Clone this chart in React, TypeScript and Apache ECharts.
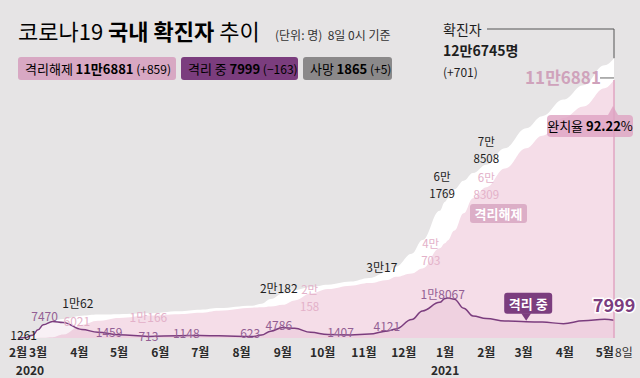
import React, { useEffect, useRef } from 'react';
import * as echarts from 'echarts';

// ---------- data ----------
const dates = [
  '2020-02-15', '2020-02-20', '2020-02-26', '2020-03-01', '2020-03-05', '2020-03-12', '2020-03-20',
  '2020-04-03', '2020-04-15', '2020-05-01', '2020-05-23', '2020-06-15', '2020-07-01', '2020-07-15',
  '2020-08-09', '2020-08-16', '2020-08-23', '2020-09-01', '2020-09-10', '2020-09-22', '2020-10-05',
  '2020-10-22', '2020-11-05', '2020-11-19', '2020-11-25', '2020-12-07', '2020-12-15', '2020-12-28',
  '2021-01-01', '2021-01-03', '2021-01-08', '2021-01-15', '2021-01-22', '2021-02-01', '2021-02-15',
  '2021-03-03', '2021-03-15', '2021-03-31', '2021-04-15', '2021-05-01', '2021-05-08',
];
const confirmed = [
  28, 104, 1261, 3736, 6088, 7869, 8652, 10062, 10591, 10774, 11165, 12121, 12850, 13612, 14626,
  15515, 17665, 20182, 21743, 23106, 24164, 25543, 27195, 30017, 32318, 38161, 44364, 57680, 61769,
  63244, 67358, 71241, 74692, 78508, 86000, 95000, 100500, 108000, 114500, 123500, 126745,
];
const released = [
  9, 16, 22, 30, 88, 333, 1540, 6021, 7757, 9072, 10166, 10779, 11421, 12348, 13702, 13901, 14249,
  15050, 17023, 20158, 22208, 23709, 24910, 26325, 27703, 29265, 31493, 40703, 42953, 44215, 48678,
  56541, 63352, 68309, 76750, 86000, 91650, 99700, 104900, 113170, 116881,
];
const isolating = [
  19, 88, 1227, 3689, 5965, 7470, 7018, 3867, 2609, 1459, 713, 1065, 1148, 970, 623, 1314, 3107,
  4786, 4375, 2560, 1533, 1407, 1806, 3192, 4121, 8347, 12271, 16158, 17899, 18067, 17600, 13500,
  10000, 8779, 7700, 7400, 7200, 6500, 7800, 8500, 7999,
];
const deaths = 1865;
const changeConfirmed = 701;
const changeReleased = 859;
const changeIsolating = -163;
const changeDeaths = 5;

const monthTicks = [
  '2020-02-15', '2020-03-01', '2020-04-01', '2020-05-01', '2020-06-01', '2020-07-01', '2020-08-01',
  '2020-09-01', '2020-10-01', '2020-11-01', '2020-12-01', '2021-01-01', '2021-02-01', '2021-03-01',
  '2021-04-01', '2021-05-01',
];
const monthLabels = [
  '2월', '3월', '4월', '5월', '6월', '7월', '8월', '9월', '10월', '11월', '12월', '1월', '2월', '3월', '4월', '5월',
];
const yearUnder = ['', '', '', '', '', '', '', '', '', '', '', '2021', '', '', '', ''];

// ---------- styles ----------
const FF = "'Noto Sans CJK KR', 'Noto Sans', sans-serif";
const BG = '#e6e4e5';
const PINK_BOX = '#d8a8c3';
const PURPLE = '#7b3d7e';
const GRAY_BOX = '#8b898a';

// annotation placements (series key, data index, two-line?, offset from data point)
const annotations = [
  { s: 'c', i: 2, two: false, dx: -9, dy: -1 },
  { s: 'c', i: 7, two: false, dx: -4, dy: -13 },
  { s: 'c', i: 17, two: false, dx: -4, dy: -6 },
  { s: 'c', i: 23, two: false, dx: -6, dy: -5 },
  { s: 'c', i: 28, two: true, dx: -3, dy: -17 },
  { s: 'c', i: 33, two: true, dx: 0, dy: -15 },
  { s: 'r', i: 7, two: false, dx: -5, dy: -4 },
  { s: 'r', i: 10, two: false, dx: 0, dy: 1 },
  { s: 'r', i: 19, two: true, dx: -1, dy: 4 },
  { s: 'r', i: 27, two: true, dx: -9, dy: 3 },
  { s: 'r', i: 33, two: true, dx: 0, dy: -2 },
  { s: 'i', i: 5, two: false, dx: -8, dy: -6 },
  { s: 'i', i: 9, two: false, dx: -10, dy: -3 },
  { s: 'i', i: 10, two: false, dx: 0, dy: -1 },
  { s: 'i', i: 12, two: false, dx: -14, dy: -3 },
  { s: 'i', i: 14, two: false, dx: -2, dy: -4 },
  { s: 'i', i: 17, two: false, dx: -4, dy: -3 },
  { s: 'i', i: 21, two: false, dx: -10, dy: -3 },
  { s: 'i', i: 24, two: false, dx: -9, dy: -3 },
  { s: 'i', i: 29, two: false, dx: -5, dy: -5 },
];

const krNum = (n: number, two = false) => {
  if (n < 10000) return String(n);
  const man = Math.floor(n / 10000);
  const rest = n % 10000;
  return `${man}만${two ? '\n' : ''}${rest}`;
};
const signed = (n: number) => (n >= 0 ? `(+${n})` : `(−${Math.abs(n)})`);

const ts = (s: string) => {
  const [y, m, d] = s.split('-').map(Number);
  return Date.UTC(y, m - 1, d);
};

const T = (x: number, y: number, text: string, s: any = {}) => {
  const align = s.align || 'center';
  const va = s.verticalAlign || 'middle';
  return {
    type: 'text',
    x,
    y,
    z: 100,
    silent: true,
    style: {
      text,
      fontFamily: FF,
      ...s,
      align,
      verticalAlign: va,
      textAlign: align,
      textVerticalAlign: va,
    },
  };
};

export default function App() {
  const ref = useRef<HTMLDivElement>(null);

  useEffect(() => {
    const el = ref.current!;
    const chart = echarts.init(el, null, { renderer: 'svg' });
    const last = dates.length - 1;
    const pts = (arr: number[]) => dates.map((d, i) => [ts(d), arr[i]]);
    const tickTs = monthTicks.map(ts);

    chart.setOption({
      animation: false,
      backgroundColor: BG,
      grid: { left: 18, right: 26, top: 51, bottom: 40 },
      xAxis: {
        type: 'value',
        min: ts(dates[0]),
        max: ts(dates[last]),
        axisLine: { show: false },
        axisTick: { show: false },
        splitLine: { show: false },
        axisLabel: {
          customValues: tickTs,
          showMinLabel: true,
          showMaxLabel: true,
          hideOverlap: false,
          margin: 5,
          formatter: (v: number) => {
            let k = 0;
            let best = Infinity;
            tickTs.forEach((t, j) => {
              const dd = Math.abs(t - v);
              if (dd < best) {
                best = dd;
                k = j;
              }
            });
            return yearUnder[k] ? `{m|${monthLabels[k]}}\n{y|${yearUnder[k]}}` : `{m|${monthLabels[k]}}`;
          },
          rich: {
            m: { fontFamily: FF, fontSize: 12, fontWeight: 'bold', color: '#2a2a2a', lineHeight: 17.6 },
            y: { fontFamily: FF, fontSize: 12, fontWeight: 'bold', color: '#2a2a2a', lineHeight: 17.6 },
          },
        },
      },
      yAxis: { type: 'value', min: 0, max: 130000, show: false, splitLine: { show: false } },
      series: [
        {
          type: 'line',
          name: '확진자',
          data: pts(confirmed),
          smooth: 0.4,
          smoothMonotone: 'x',
          symbol: 'none',
          lineStyle: { width: 0, opacity: 0 },
          areaStyle: { color: '#ffffff', opacity: 1 },
          z: 1,
        },
        {
          type: 'line',
          name: '격리해제',
          data: pts(released),
          smooth: 0.4,
          smoothMonotone: 'x',
          symbol: 'none',
          lineStyle: { width: 0, opacity: 0 },
          areaStyle: { color: '#f5dde8', opacity: 1 },
          z: 2,
          markLine: {
            silent: true,
            symbol: 'none',
            label: { show: false },
            lineStyle: { color: '#e0a4c2', width: 1.5, type: 'solid' },
            data: [[{ coord: [ts(dates[last]), 0] }, { coord: [ts(dates[last]), released[last]] }]],
          },
        },
        {
          type: 'line',
          name: '격리 중',
          data: pts(isolating),
          smooth: 0.4,
          smoothMonotone: 'x',
          symbol: 'none',
          lineStyle: { color: PURPLE, width: 1.5 },
          areaStyle: { color: 'rgba(196,120,168,0.16)' },
          z: 3,
        },
      ],
    });

    const px = (i: number, arr: number[]) =>
      chart.convertToPixel({ gridIndex: 0 }, [ts(dates[i]), arr[i]]) as number[];
    const arrOf: any = { c: confirmed, r: released, i: isolating };
    const colOf: any = { c: '#1e1e1e', r: '#e3b1c9', i: '#935f94' };

    const g: any[] = [];

    // title
    g.push(
      T(18, 30, '{a|코로나19 }{b|국내 확진자 }{a|추이}', {
        align: 'left',
        rich: {
          a: { fontFamily: FF, fontSize: 22, color: '#1a1a1a' },
          b: { fontFamily: FF, fontSize: 22, fontWeight: 'bold', color: '#1a1a1a' },
        },
      })
    );
    g.push(T(275, 34, '(단위: 명)  8일 0시 기준', { align: 'left', fontSize: 12, fill: '#333' }));

    // legend boxes
    const box = (x: number, w: number, fill: string, a: string, b: string, c: string, ca: string) => {
      g.push({ type: 'rect', z: 99, silent: true, shape: { x, y: 57, width: w, height: 23, r: 3 }, style: { fill } });
      g.push(
        T(x + 7, 68.5, `{a|${a}} {b|${b}} {c|${c}}`, {
          align: 'left',
          rich: {
            a: { fontFamily: FF, fontSize: 13, color: ca },
            b: { fontFamily: FF, fontSize: 13, fontWeight: 'bold', color: '#ffffff' },
            c: { fontFamily: FF, fontSize: 12, color: ca },
          },
        })
      );
    };
    box(18, 158, PINK_BOX, '격리해제', krNum(released[last]), signed(changeReleased), '#f8eaf1');
    box(181, 117, PURPLE, '격리 중', String(isolating[last]), signed(changeIsolating), '#ffffff');
    box(303, 89, GRAY_BOX, '사망', String(deaths), signed(changeDeaths), '#ffffff');

    // value annotations
    annotations.forEach((a) => {
      const arr = arrOf[a.s];
      const p = px(a.i, arr);
      g.push(
        T(p[0] + a.dx, p[1] + a.dy, krNum(arr[a.i], a.two), {
          fontSize: a.two ? 11.5 : 12,
          lineHeight: 17,
          fill: colOf[a.s],
        })
      );
    });

    // confirmed total callout
    const pc = px(last, confirmed);
    g.push({
      type: 'polyline',
      z: 99,
      silent: true,
      shape: { points: [[487, 29], [pc[0], 29], [pc[0], pc[1]]] },
      style: { stroke: '#555', lineWidth: 1, fill: 'none' },
    });
    g.push(T(443, 29, '확진자', { align: 'left', fontSize: 14, fill: '#1e1e1e' }));
    g.push(T(443, 50, krNum(confirmed[last]) + '명', { align: 'left', fontSize: 14, fontWeight: 'bold', fill: '#1e1e1e' }));
    g.push(T(443, 71, signed(changeConfirmed), { align: 'left', fontSize: 12, fill: '#1e1e1e' }));

    // released total callout
    const pr = px(last, released);
    g.push({
      type: 'line',
      z: 99,
      silent: true,
      shape: { x1: pr[0] - 14, y1: pr[1] - 2, x2: pr[0], y2: pr[1] - 2 },
      style: { stroke: '#666', lineWidth: 1 },
    });
    g.push(T(pr[0] - 51, pr[1] - 3, krNum(released[last]), { fontSize: 17, fontWeight: 'bold', fill: '#cfa2bb' }));

    // recovery rate box
    const rate = ((released[last] / confirmed[last]) * 100).toFixed(2);
    const rb = { x: pr[0] - 67, y: pr[1] + 35, w: 86, h: 22 };
    g.push({ type: 'rect', z: 99, silent: true, shape: { x: rb.x, y: rb.y, width: rb.w, height: rb.h, r: 4 }, style: { fill: 'rgba(222,162,194,0.8)' } });
    g.push({
      type: 'polygon',
      z: 99,
      silent: true,
      shape: { points: [[pr[0] - 6, rb.y], [pr[0] + 4, rb.y], [pr[0] - 1, pr[1] + 26]] },
      style: { fill: 'rgba(222,162,194,0.8)' },
    });
    g.push(
      T(rb.x + rb.w / 2, rb.y + rb.h / 2, `{a|완치율 }{b|${rate}}{a|%}`, {
        rich: {
          a: { fontFamily: FF, fontSize: 13, color: '#ffffff' },
          b: { fontFamily: FF, fontSize: 13, fontWeight: 'bold', color: '#ffffff' },
        },
      })
    );

    // 격리해제 label box
    g.push({ type: 'rect', z: 99, silent: true, shape: { x: 470, y: 204, width: 57, height: 19, r: 3 }, style: { fill: '#dcaec7' } });
    g.push(T(498.5, 213.5, '격리해제', { fontSize: 13, fontWeight: 'bold', fill: '#ffffff' }));

    // 격리 중 callout with pointer
    const pi = px(35, isolating);
    const ib = { x: pi[0] - 22, y: pi[1] - 29, w: 48, h: 21 };
    g.push({ type: 'rect', z: 99, silent: true, shape: { x: ib.x, y: ib.y, width: ib.w, height: ib.h, r: 3 }, style: { fill: PURPLE } });
    g.push({
      type: 'polygon',
      z: 99,
      silent: true,
      shape: { points: [[pi[0] - 5, ib.y + ib.h - 0.5], [pi[0] + 5, ib.y + ib.h - 0.5], [pi[0], pi[1] - 1]] },
      style: { fill: PURPLE },
    });
    g.push(T(ib.x + ib.w / 2, ib.y + ib.h / 2, '격리 중', { fontSize: 13, fontWeight: 'bold', fill: '#ffffff' }));

    // last isolating value
    const pl = px(last, isolating);
    g.push(
      T(pl[0], pl[1] - 16, String(isolating[last]), {
        fontSize: 18,
        fontWeight: 'bold',
        fill: PURPLE,
        stroke: '#ffffff',
        lineWidth: 3,
      })
    );

    // axis extras
    g.push(T(pl[0] + 1, 351.8, '8일', { align: 'left', fontSize: 12, fill: '#333' }));
    g.push(T(30, 369.6, '2020', { fontSize: 12, fontWeight: 'bold', fill: '#2a2a2a' }));

    chart.setOption({ graphic: { elements: g } });

    return () => chart.dispose();
  }, []);

  return (
    <div
      ref={ref}
      style={{ position: 'absolute', left: 0, top: 0, width: 640, height: 378, background: BG }}
    />
  );
}
